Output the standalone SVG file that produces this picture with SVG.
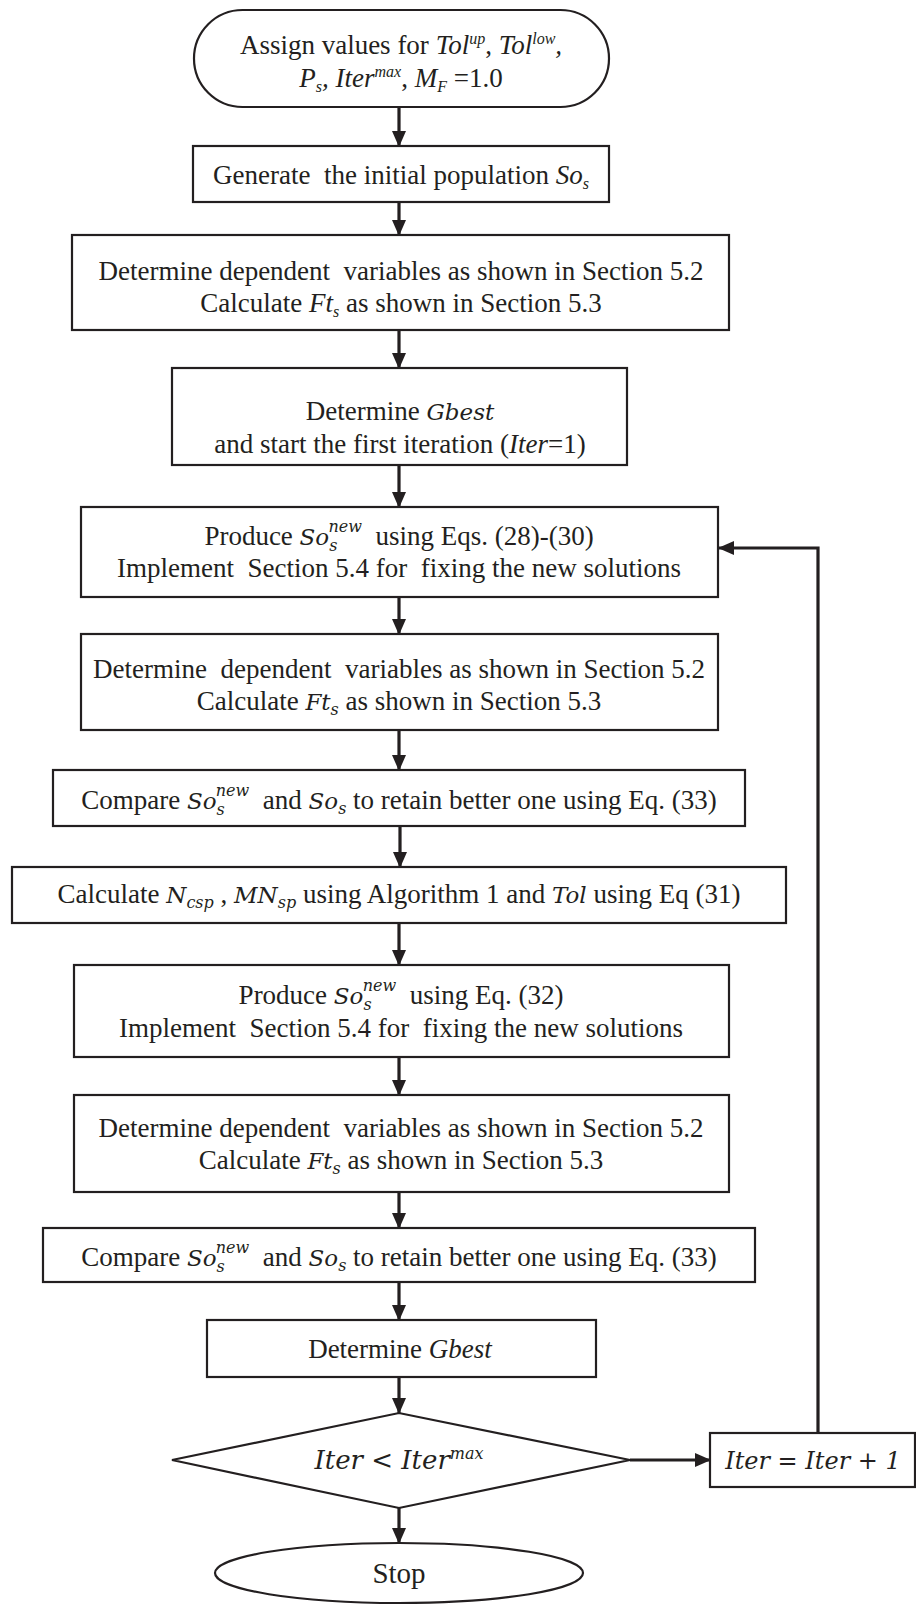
<svg xmlns="http://www.w3.org/2000/svg" width="916" height="1605" viewBox="0 0 916 1605">
<style>
.box{fill:#fff;stroke:#231f20;stroke-width:2.2}
.ln{fill:none;stroke:#231f20;stroke-width:3.2}
text{font-family:"Liberation Serif","Times New Roman",serif;font-size:27px;fill:#231f20;text-anchor:middle;white-space:pre}
.i{font-style:italic}
.m{font-family:"DejaVu Serif","Liberation Serif",serif;font-style:italic;font-size:23px}
.s{font-size:16px}
.big{font-size:24px}
</style>
<defs>
<marker id="ah" markerUnits="userSpaceOnUse" markerWidth="16" markerHeight="14" refX="15" refY="7" orient="auto">
<path d="M0,0 L16,7 L0,14 Z" fill="#231f20"/>
</marker>
</defs>
<g id="connectors">
<line class="ln" x1="399" y1="107" x2="399" y2="146" marker-end="url(#ah)"/>
<line class="ln" x1="399" y1="202" x2="399" y2="235" marker-end="url(#ah)"/>
<line class="ln" x1="399" y1="330" x2="399" y2="368" marker-end="url(#ah)"/>
<line class="ln" x1="399" y1="465" x2="399" y2="507" marker-end="url(#ah)"/>
<line class="ln" x1="399" y1="597" x2="399" y2="634" marker-end="url(#ah)"/>
<line class="ln" x1="399" y1="730" x2="399" y2="770" marker-end="url(#ah)"/>
<line class="ln" x1="400" y1="826" x2="400" y2="867" marker-end="url(#ah)"/>
<line class="ln" x1="399" y1="923" x2="399" y2="965" marker-end="url(#ah)"/>
<line class="ln" x1="399" y1="1057" x2="399" y2="1095" marker-end="url(#ah)"/>
<line class="ln" x1="399" y1="1192" x2="399" y2="1228" marker-end="url(#ah)"/>
<line class="ln" x1="399" y1="1282" x2="399" y2="1320" marker-end="url(#ah)"/>
<line class="ln" x1="399" y1="1377" x2="399" y2="1413" marker-end="url(#ah)"/>
<line class="ln" x1="399" y1="1508" x2="399" y2="1543" marker-end="url(#ah)"/>
<line class="ln" x1="630" y1="1460" x2="710" y2="1460" marker-end="url(#ah)"/>
<polyline class="ln" points="818,1432 818,548 719,548" marker-end="url(#ah)"/>
</g>
<g id="n1">
<rect class="box" x="194" y="10" width="415" height="97" rx="48.5"/>
<text x="401" y="54">Assign values for <tspan class="i">Tol</tspan><tspan class="i s" dy="-10">up</tspan><tspan dy="10">, </tspan><tspan class="i">Tol</tspan><tspan class="i s" dy="-10">low</tspan><tspan class="i" dy="10">,</tspan></text>
<text x="401" y="87"><tspan class="i">P</tspan><tspan class="i s" dy="5">s</tspan><tspan class="i" dy="-5">, Iter</tspan><tspan class="i s" dy="-10">max</tspan><tspan dy="10">, </tspan><tspan class="i">M</tspan><tspan class="i s" dy="5">F</tspan><tspan dy="-5"> =1.0</tspan></text>
</g>
<g id="n2">
<rect class="box" x="193" y="146" width="416" height="56"/>
<text x="401" y="184">Generate  the initial population <tspan class="i">So</tspan><tspan class="i s" dy="5">s</tspan></text>
</g>
<g id="n3">
<rect class="box" x="72" y="235" width="657" height="95"/>
<text x="401" y="280">Determine dependent  variables as shown in Section 5.2</text>
<text x="401" y="312">Calculate <tspan class="i">Ft</tspan><tspan class="i s" dy="5">s</tspan><tspan dy="-5"> as shown in Section 5.3</tspan></text>
</g>
<g id="n4">
<rect class="box" x="172" y="368" width="455" height="97"/>
<text x="400" y="420">Determine <tspan class="m">Gbest</tspan></text>
<text x="400" y="453">and start the first iteration (<tspan class="i">Iter</tspan>=1)</text>
</g>
<g id="n5">
<rect class="box" x="81" y="507" width="637" height="90"/>
<text x="399" y="545">Produce <tspan class="m">So</tspan><tspan class="m s" dy="6">s</tspan><tspan class="m s" dx="-9" dy="-19">new</tspan><tspan dy="13">  using Eqs. (28)-(30)</tspan></text>
<text x="399" y="577">Implement  Section 5.4 for  fixing the new solutions</text>
</g>
<g id="n6">
<rect class="box" x="81" y="634" width="637" height="96"/>
<text x="399" y="678">Determine  dependent  variables as shown in Section 5.2</text>
<text x="399" y="710">Calculate <tspan class="m">Ft</tspan><tspan class="m s" dy="5">s</tspan><tspan dy="-5"> as shown in Section 5.3</tspan></text>
</g>
<g id="n7">
<rect class="box" x="53" y="770" width="692" height="56"/>
<text x="399" y="809">Compare <tspan class="m">So</tspan><tspan class="m s" dy="6">s</tspan><tspan class="m s" dx="-9" dy="-19">new</tspan><tspan dy="13">  and </tspan><tspan class="m">So</tspan><tspan class="m s" dy="5">s</tspan><tspan dy="-5"> to retain better one using Eq. (33)</tspan></text>
</g>
<g id="n8">
<rect class="box" x="12" y="867" width="774" height="56"/>
<text x="399" y="903">Calculate <tspan class="m">N</tspan><tspan class="m s" dy="5">csp</tspan><tspan dy="-5"> , </tspan><tspan class="m">MN</tspan><tspan class="m s" dy="5">sp</tspan><tspan dy="-5"> using Algorithm 1 and </tspan><tspan class="m">Tol</tspan><tspan> using Eq (31)</tspan></text>
</g>
<g id="n9">
<rect class="box" x="74" y="965" width="655" height="92"/>
<text x="401" y="1004">Produce <tspan class="m">So</tspan><tspan class="m s" dy="6">s</tspan><tspan class="m s" dx="-9" dy="-19">new</tspan><tspan dy="13">  using Eq. (32)</tspan></text>
<text x="401" y="1037">Implement  Section 5.4 for  fixing the new solutions</text>
</g>
<g id="n10">
<rect class="box" x="74" y="1095" width="655" height="97"/>
<text x="401" y="1137">Determine dependent  variables as shown in Section 5.2</text>
<text x="401" y="1169">Calculate <tspan class="m">Ft</tspan><tspan class="m s" dy="5">s</tspan><tspan dy="-5"> as shown in Section 5.3</tspan></text>
</g>
<g id="n11">
<rect class="box" x="43" y="1228" width="712" height="54"/>
<text x="399" y="1266">Compare <tspan class="m">So</tspan><tspan class="m s" dy="6">s</tspan><tspan class="m s" dx="-9" dy="-19">new</tspan><tspan dy="13">  and </tspan><tspan class="m">So</tspan><tspan class="m s" dy="5">s</tspan><tspan dy="-5"> to retain better one using Eq. (33)</tspan></text>
</g>
<g id="n12">
<rect class="box" x="207" y="1320" width="389" height="57"/>
<text x="400" y="1358">Determine <tspan class="i">Gbest</tspan></text>
</g>
<g id="n13">
<polygon class="box" points="172,1460 399,1413 630,1460 399,1508"/>
<text x="399" y="1469"><tspan class="m" style="font-size:26px">Iter &lt; Iter</tspan><tspan class="m s" dy="-10">max</tspan></text>
</g>
<g id="n14">
<rect class="box" x="710" y="1433" width="205" height="54"/>
<text x="813" y="1469" class="m big">Iter = Iter + 1</text>
</g>
<g id="n15">
<ellipse class="box" cx="399" cy="1573" rx="184" ry="30"/>
<text x="399" y="1583" style="font-size:29px">Stop</text>
</g>
</svg>
